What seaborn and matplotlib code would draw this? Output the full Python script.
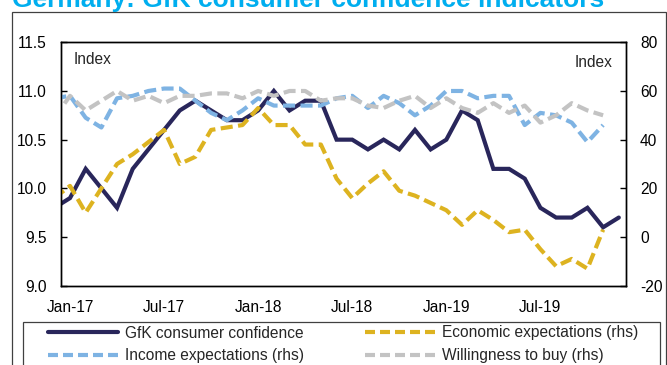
import numpy as np
import pandas as pd
import matplotlib
matplotlib.use("Agg")
import matplotlib.pyplot as plt
import seaborn as sns
from matplotlib.lines import Line2D
from matplotlib.patches import Rectangle

# ---------------- data (monthly, Dec-16 .. Dec-19) ----------------
months = pd.date_range("2016-12-01", "2019-12-01", freq="MS")
month_labels = [d.strftime("%b-%y") for d in months]

gfk = [9.8, 9.9, 10.2, 10.0, 9.8, 10.2, 10.4, 10.6, 10.8, 10.9, 10.8, 10.7,
       10.7, 10.8, 11.0, 10.8, 10.9, 10.9, 10.5, 10.5, 10.4, 10.5, 10.4, 10.6,
       10.4, 10.5, 10.8, 10.7, 10.2, 10.2, 10.1, 9.8, 9.7, 9.7, 9.8, 9.6, 9.7]
economic = [16, 21, 10, 20, 30, 34, 39, 44, 30, 33, 44, 45,
            46, 53, 46, 46, 38, 38, 24, 16, 22, 27, 19, 17,
            14, 11, 5, 11, 7, 2, 3, -5, -12, -9, -13, 3, np.nan]
income = [57, 58, 49, 45, 57, 58, 60, 61, 61, 56, 51, 48,
          52, 57, 54, 54, 54, 54, 57, 58, 53, 58, 55, 50,
          54, 60, 60, 57, 58, 58, 46, 51, 50, 47, 39, 46, np.nan]
willingness = [49, 58, 52, 56, 60, 56, 58, 55, 58, 58, 59, 59,
               57, 60, 58, 60, 60, 56, 57, 57, 54, 53, 56, 58,
               53, 57, 53, 51, 55, 51, 54, 47, 50, 55, 52, 50, np.nan]

tick_labels = ["Jan-17", "Jul-17", "Jan-18", "Jul-18", "Jan-19", "Jul-19"]
left_ticks = [9.0, 9.5, 10.0, 10.5, 11.0, 11.5]
right_ticks = [-20, 0, 20, 40, 60, 80]

series_names = ["GfK consumer confidence", "Economic expectations (rhs)",
                "Income expectations (rhs)", "Willingness to buy (rhs)"]

# ---------------- style ----------------
sns.set_style("white")
plt.rcParams["font.family"] = ["Liberation Sans", "DejaVu Sans"]
FS = 11.2
C_GFK = "#29265B"
C_ECO = "#DDB320"
C_INC = "#7EB3E3"
C_WIL = "#C3C3C3"
C_TITLE = "#00AEEF"
LW = 3.0
DASH = (2.9, 1.3)

W, H = 667, 365
fig = plt.figure(figsize=(W / 100, H / 100), dpi=100)
fig.patch.set_facecolor("white")

# outer chart frame
fig.patches.append(Rectangle((12.3 / W, -0.05), (665.7 - 12.3) / W, 1.05 - 11.7 / H,
                             transform=fig.transFigure, fill=False,
                             edgecolor="#404040", linewidth=0.9, zorder=0))

ax = fig.add_axes([61 / W, 1 - 285.7 / H, (625.7 - 61) / W, (285.7 - 42.3) / H])
ax2 = ax.twinx()

df = pd.DataFrame({"pos": np.arange(len(months)), "month": month_labels,
                   "gfk": gfk, "economic": economic, "income": income,
                   "willingness": willingness})

sns.lineplot(data=df, x="pos", y="gfk", ax=ax, color=C_GFK, linewidth=LW,
             solid_joinstyle="miter")
for col, c in [("economic", C_ECO), ("income", C_INC), ("willingness", C_WIL)]:
    sns.lineplot(data=df.dropna(subset=[col]), x="pos", y=col, ax=ax2, color=c,
                 linewidth=LW, linestyle=(0, DASH))

# axes limits / ticks
pos_of = {m: i for i, m in enumerate(month_labels)}
tick_pos = [pos_of[t] for t in tick_labels]
ax.set_xlim(pos_of["Jan-17"] - 0.574, pos_of["Dec-19"] + 0.44)
ax.set_ylim(9.0, 11.5)
ax2.set_ylim(-20, 80)

ax.set_xticks(tick_pos)
ax.set_xticklabels(tick_labels, fontsize=FS, color="black")
ax.set_yticks(left_ticks)
ax.set_yticklabels([f"{v:.1f}" for v in left_ticks], fontsize=FS, color="black")
ax2.set_yticks(right_ticks)
ax2.set_yticklabels([f"{v:d}" for v in right_ticks], fontsize=FS, color="black")
ax.set_xlabel("")
ax.set_ylabel("")
ax2.set_ylabel("")

ax.tick_params(axis="x", length=0, pad=10)
ax.tick_params(axis="y", direction="in", length=4, width=1, pad=10.3, color="black")
ax2.tick_params(axis="y", direction="in", length=4, width=1, pad=10.3, color="black")
for a in (ax, ax2):
    for s in a.spines.values():
        s.set_color("black")
        s.set_linewidth(1.0)
        s.set_visible(True)

ax.text(74 / W, 1 - 60 / H, "Index", transform=fig.transFigure, fontsize=FS,
        ha="left", va="center")
ax.text(612.7 / W, 1 - 62.5 / H, "Index", transform=fig.transFigure, fontsize=FS,
        ha="right", va="center")

# title (cut at top, as in the reference)
fig.text(12.5 / W, 1 - 6.7 / H, "Germany: GfK consumer confidence indicators",
         fontsize=19, fontweight="bold", color=C_TITLE, ha="left", va="baseline")

# legend
handles = [
    Line2D([], [], color=C_GFK, linewidth=LW),
    Line2D([], [], color=C_INC, linewidth=LW, linestyle=(0, (2.4, 1.2))),
    Line2D([], [], color=C_ECO, linewidth=LW, linestyle=(0, (2.4, 1.2))),
    Line2D([], [], color=C_WIL, linewidth=LW, linestyle=(0, (2.4, 1.2))),
]
labels = [series_names[0], series_names[2], series_names[1], series_names[3]]
fig.legend(handles, labels, ncol=2, loc="upper left", frameon=False,
           bbox_to_anchor=(48 / W, 1 - 325.5 / H), borderpad=0, borderaxespad=0,
           handlelength=4.5, handletextpad=0.45, columnspacing=3.9,
           labelspacing=0.5, fontsize=FS)
fig.patches.append(Rectangle((22.7 / W, -0.05), (660 - 22.7) / W, 1.05 - 322.3 / H,
                             transform=fig.transFigure, fill=False,
                             edgecolor="#404040", linewidth=0.9, zorder=0))

fig.savefig("out.png", dpi=100)
